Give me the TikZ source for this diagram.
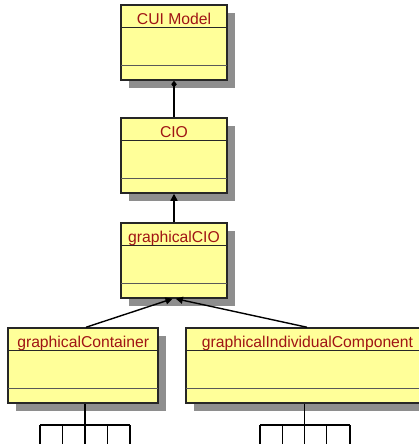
\documentclass[tikz,border=0pt]{standalone}
\usepackage{fontspec}
\setmainfont{Liberation Sans}
\usetikzlibrary{arrows.meta,calc}
\definecolor{classfill}{HTML}{FFFF99}
\definecolor{classtext}{HTML}{A01414}
\definecolor{shadegray}{HTML}{8E8E8E}
\newcommand\umlclass[5]{%
  \fill[shadegray] (#2-#4/2+8,#3-37.5+8) rectangle (#2+#4/2+8,#3+37.5+8);
  \node[classbox,minimum width=#4pt] (#1) at (#2,#3) {};
  \draw[titleline] ($(#1.north west)+(0.6,23)$) -- ($(#1.north east)+(-0.6,23)$);
  \draw[opline] ($(#1.south west)+(0.6,-15)$) -- ($(#1.south east)+(-0.6,-15)$);
  \node[classlabel] (#1-label) at ($(#1.north)+(0,20.5)$) {#5};
}
\begin{document}
\begin{tikzpicture}[x=1pt,y=-1pt,
  classbox/.style={draw=black!85,line width=1.5pt,fill=classfill,minimum height=75pt,inner sep=0pt},
  titleline/.style={draw=black!85,line width=1.1pt},
  opline/.style={draw=black!65,line width=1.1pt},
  classlabel/.style={anchor=base,inner sep=0pt,text=classtext,font=\fontsize{15.7}{18}\selectfont},
  conn/.style={draw=black,line width=1.4pt},
  gen/.style={conn,-{Triangle[length=7pt,width=7pt]}},
  comp/.style={conn,{Diamond[length=7pt,width=5.5pt]}-}]
\useasboundingbox (0,0) rectangle (418,444);
\umlclass{cui}{174}{42.5}{106}{CUI Model}
\umlclass{cio}{174}{155.5}{106}{CIO}
\umlclass{gcio}{174}{260.5}{106}{graphicalCIO}
\umlclass{gcont}{83.2}{365.5}{150}{graphicalContainer}
\umlclass{gic}{307.5}{365.5}{243}{graphicalIndividualComponent}
% connectors
\draw[comp] (cui.south) -- (cio.north);
\draw[gen] (gcio.north) -- (cio.south);
\draw[gen] ($(gcont.north)+(2.8,0)$) -- ($(gcio.south)+(-1.5,0)$);
\draw[gen] ($(gic.north)+(-0.5,0)$) -- ($(gcio.south)+(1.8,0)$);
% left tree
\coordinate (lj) at (85,425);
\coordinate (l1) at (40,450);
\coordinate (l2) at (62.3,450);
\coordinate (l3) at (85,450);
\coordinate (l4) at (107.3,450);
\coordinate (l5) at (130,450);
\draw[conn] (gcont.south -| lj) -- (lj);
\draw[conn] (l1 |- lj) -- (l5 |- lj);
\foreach \t in {l1,l2,l3,l4,l5} \draw[conn] (\t |- lj) -- (\t);
% right tree
\coordinate (rj) at (304.3,425);
\coordinate (r1) at (260,450);
\coordinate (r2) at (282.3,450);
\coordinate (r3) at (304.3,450);
\coordinate (r4) at (326.7,450);
\coordinate (r5) at (350,450);
\draw[conn] (gic.south -| rj) -- (rj);
\draw[conn] (r1 |- rj) -- (r5 |- rj);
\foreach \t in {r1,r2,r3,r4,r5} \draw[conn] (\t |- rj) -- (\t);
\end{tikzpicture}
\end{document}
